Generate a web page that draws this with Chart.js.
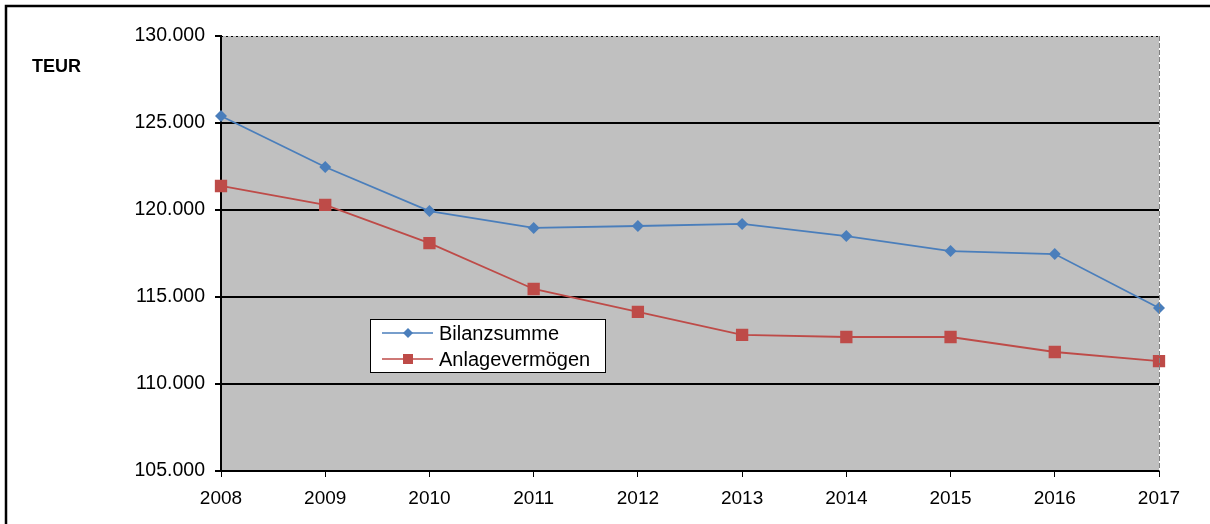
<!DOCTYPE html>
<html>
<head>
<meta charset="utf-8">
<script src="https://cdn.jsdelivr.net/npm/chart.js@4"></script>
<style>
  html, body { margin: 0; padding: 0; background: #fff; }
  #wrap { width: 1210px; height: 524px; position: relative; }
</style>
</head>
<body>
<div id="wrap"><canvas id="chart"></canvas></div>
<script>
// values (TEUR)
const years = ['2008', '2009', '2010', '2011', '2012', '2013', '2014', '2015', '2016', '2017'];
const bilanzsumme = [125400, 122470, 119940, 118970, 119080, 119200, 118500, 117640, 117470, 114370];
const anlagevermoegen = [121380, 120290, 118100, 115460, 114140, 112820, 112700, 112700, 111840, 111320];
const yTicks = [105000, 110000, 115000, 120000, 125000, 130000];

const FONT = 'Arial, "Liberation Sans", sans-serif';

// frame, grey plot area, dotted top / dashed right border, unit label and legend box
const excelLook = {
    id: 'excelLook',
    beforeDraw(chart) {
        const ctx = chart.ctx;
        const a = chart.chartArea;
        ctx.save();
        ctx.fillStyle = '#c0c0c0';
        ctx.fillRect(a.left, a.top, a.right - a.left, a.bottom - a.top);
        ctx.restore();
    },
    afterDatasetsDraw(chart) {
        const ctx = chart.ctx;
        const a = chart.chartArea;
        ctx.save();
        // outer frame
        ctx.strokeStyle = '#000';
        ctx.lineWidth = 2.5;
        ctx.beginPath();
        ctx.moveTo(6, 530);
        ctx.lineTo(6, 6);
        ctx.lineTo(1215, 6);
        ctx.stroke();

        // dotted top edge
        ctx.lineWidth = 1;
        ctx.setLineDash([2, 3]);
        ctx.strokeStyle = '#000';
        ctx.beginPath();
        ctx.moveTo(a.left, a.top + 0.5);
        ctx.lineTo(a.right, a.top + 0.5);
        ctx.stroke();
        // dashed right edge
        ctx.setLineDash([5, 2]);
        ctx.strokeStyle = '#808080';
        ctx.beginPath();
        ctx.moveTo(a.right + 0.5, a.top);
        ctx.lineTo(a.right + 0.5, a.bottom);
        ctx.stroke();
        ctx.setLineDash([]);

        // unit label
        ctx.fillStyle = '#000';
        ctx.font = 'bold 18px ' + FONT;
        ctx.textBaseline = 'middle';
        ctx.fillText('TEUR', 32, 67);

        // legend box
        const lx = 370, ly = 319, lw = 235, lh = 53;
        ctx.fillStyle = '#fff';
        ctx.fillRect(lx, ly, lw, lh);
        ctx.strokeStyle = '#000';
        ctx.lineWidth = 1;
        ctx.strokeRect(lx + 0.5, ly + 0.5, lw, lh);
        chart.data.datasets.forEach((ds, i) => {
            const y = ly + 14 + i * 26;
            ctx.strokeStyle = ds.borderColor;
            ctx.lineWidth = 1.5;
            ctx.beginPath();
            ctx.moveTo(lx + 12, y);
            ctx.lineTo(lx + 63, y);
            ctx.stroke();
            ctx.fillStyle = ds.backgroundColor;
            const cx = lx + 38;
            if (ds.pointStyle === 'rectRot') {
                ctx.beginPath();
                ctx.moveTo(cx, y - 5);
                ctx.lineTo(cx + 5, y);
                ctx.lineTo(cx, y + 5);
                ctx.lineTo(cx - 5, y);
                ctx.closePath();
                ctx.fill();
            } else {
                ctx.fillRect(cx - 5, y - 5, 10, 10);
            }
            ctx.fillStyle = '#000';
            ctx.font = '20px ' + FONT;
            ctx.textBaseline = 'middle';
            ctx.fillText(ds.label, lx + 69, y + 1);
        });
        ctx.restore();
    }
};

new Chart(document.getElementById('chart'), {
    type: 'line',
    data: {
        labels: years,
        datasets: [
            {
                label: 'Bilanzsumme',
                data: bilanzsumme,
                borderColor: '#4a7ebb',
                backgroundColor: '#4a7ebb',
                borderWidth: 1.8,
                pointStyle: 'rectRot',
                pointRadius: 6,
                pointBorderWidth: 0,
                tension: 0
            },
            {
                label: 'Anlagevermögen',
                data: anlagevermoegen,
                borderColor: '#be4b48',
                backgroundColor: '#be4b48',
                borderWidth: 1.8,
                pointStyle: 'rect',
                pointRadius: 8.7,
                pointBorderWidth: 0,
                tension: 0
            }
        ]
    },
    options: {
        responsive: true,
        maintainAspectRatio: false,
        animation: false,
        layout: { padding: { left: 0, right: 51, top: 36, bottom: 0 } },
        plugins: {
            legend: { display: false },
            tooltip: { enabled: false }
        },
        scales: {
            x: {
                type: 'category',
                offset: false,
                grid: {
                    display: true,
                    drawOnChartArea: false,
                    drawTicks: true,
                    tickLength: 6,
                    color: '#000',
                    lineWidth: 1
                },
                border: { display: true, color: '#000', width: 2 },
                ticks: {
                    color: '#000',
                    font: { family: FONT, size: 19 },
                    padding: 10,
                    maxRotation: 0,
                    autoSkip: false
                },
                afterFit(scale) { scale.height = 53; }
            },
            y: {
                min: 105000,
                max: 130000,
                afterBuildTicks(scale) { scale.ticks = yTicks.map(v => ({ value: v })); },
                grid: {
                    color: (c) => (c.tick && (c.tick.value === 130000 || c.tick.value === 105000)) ? 'rgba(0,0,0,0)' : '#000',
                    lineWidth: 2,
                    drawTicks: true,
                    tickLength: 6,
                    tickColor: '#000'
                },
                border: { display: true, color: '#000', width: 2 },
                ticks: {
                    color: '#000',
                    font: { family: FONT, size: 19.5 },
                    padding: 10,
                    callback: (v) => (v / 1000).toFixed(3)
                },
                afterFit(scale) { scale.width = 221; }
            }
        }
    },
    plugins: [excelLook]
});
</script>
</body>
</html>
